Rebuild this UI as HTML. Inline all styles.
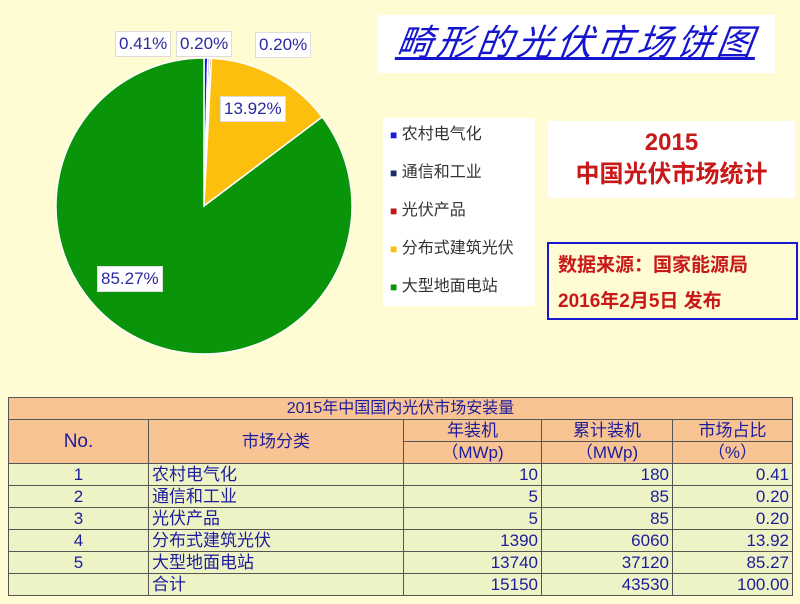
<!DOCTYPE html>
<html><head><meta charset="utf-8"><style>
body{margin:0;width:800px;height:604px;background:#fffbd2;position:relative;overflow:hidden;font-family:"Liberation Sans","Noto Sans CJK SC",sans-serif}
.abs{position:absolute}
.lbl{position:absolute;background:#fff;border:1px solid #ddd;color:#2a2aa0;font-size:17px;line-height:24px;padding:0 3px}
table{position:absolute;left:8px;top:397px;width:785px;border-collapse:collapse;font-size:17px;color:#1c1c9c}
td{border:1px solid #555;padding:0 3px;height:21px;line-height:20px;overflow:hidden;white-space:nowrap}
.h td{background:#f9c493}
.d td{background:#eef3c6}
.r{text-align:right}.c{text-align:center}
</style></head><body>
<svg class="abs" style="left:0;top:0" width="380" height="380">
<g stroke="#fff" stroke-width="1.5">
<path d="M204,206 L204,58 A148,148 0 0 1 207.81,58.05 Z" fill="#1a1ae0"/>
<path d="M204,206 L207.81,58.05 A148,148 0 0 1 209.67,58.11 Z" fill="#1a2a70"/>
<path d="M204,206 L209.67,58.11 A148,148 0 0 1 211.53,58.19 Z" fill="#c01818"/>
<path d="M204,206 L211.53,58.19 A148,148 0 0 1 322.24,116.98 Z" fill="#fdbf0e"/>
<path d="M204,206 L322.24,116.98 A148,148 0 1 1 204,58 Z" fill="#0a940a"/>
</g></svg>
<div class="lbl" style="left:115px;top:31px">0.41%</div>
<div class="lbl" style="left:176px;top:31px">0.20%</div>
<div class="lbl" style="left:255px;top:32px">0.20%</div>
<div class="lbl" style="left:220px;top:96px">13.92%</div>
<div class="lbl" style="left:97px;top:266px">85.27%</div>
<div class="abs" style="left:378px;top:15px;width:397px;height:58px;background:#fff"></div>
<div class="abs" style="left:397px;top:19px;font-size:36px;font-style:italic;color:#1515d0;text-decoration:underline;letter-spacing:4px;line-height:48px;transform:skewX(-8deg)">畸形的光伏市场饼图</div>
<div class="abs" style="left:383px;top:118px;width:152px;height:188px;background:#fff"></div>
<div class="abs" style="left:390px;top:116px;font-size:16px;color:#333;line-height:38px">
<div><span style="color:#1a1ae0;font-size:12px">■</span> 农村电气化</div>
<div><span style="color:#1a2a70;font-size:12px">■</span> 通信和工业</div>
<div><span style="color:#c01818;font-size:12px">■</span> 光伏产品</div>
<div><span style="color:#fdbf0e;font-size:12px">■</span> 分布式建筑光伏</div>
<div><span style="color:#0a940a;font-size:12px">■</span> 大型地面电站</div></div>
<div class="abs" style="left:548px;top:121px;width:247px;height:77px;background:#fff;color:#c81818;font-size:24px;font-weight:bold;text-align:center;line-height:32px;padding-top:6px;box-sizing:border-box">2015<br>中国光伏市场统计</div>
<div class="abs" style="left:547px;top:242px;width:251px;height:78px;border:2px solid #1818d0;box-sizing:border-box;color:#c81818;font-size:19px;font-weight:bold;line-height:36px;padding:4px 0 0 9px">数据来源：国家能源局<br>2016年2月5日 发布</div>
<table>
<tr class="h"><td colspan="5" class="c" style="font-size:16px">2015年中国国内光伏市场安装量</td></tr>
<tr class="h"><td rowspan="2" class="c" style="width:133px;font-size:19px">No.</td><td rowspan="2" class="c" style="width:248px">市场分类</td><td class="c" style="width:131px">年装机</td><td class="c" style="width:124px">累计装机</td><td class="c">市场占比</td></tr>
<tr class="h"><td class="c">（MWp)</td><td class="c">（MWp)</td><td class="c">（%）</td></tr>
<tr class="d"><td class="c">1</td><td>农村电气化</td><td class="r">10</td><td class="r">180</td><td class="r">0.41</td></tr>
<tr class="d"><td class="c">2</td><td>通信和工业</td><td class="r">5</td><td class="r">85</td><td class="r">0.20</td></tr>
<tr class="d"><td class="c">3</td><td>光伏产品</td><td class="r">5</td><td class="r">85</td><td class="r">0.20</td></tr>
<tr class="d"><td class="c">4</td><td>分布式建筑光伏</td><td class="r">1390</td><td class="r">6060</td><td class="r">13.92</td></tr>
<tr class="d"><td class="c">5</td><td>大型地面电站</td><td class="r">13740</td><td class="r">37120</td><td class="r">85.27</td></tr>
<tr class="d"><td></td><td>合计</td><td class="r">15150</td><td class="r">43530</td><td class="r">100.00</td></tr>
</table>
</body></html>
